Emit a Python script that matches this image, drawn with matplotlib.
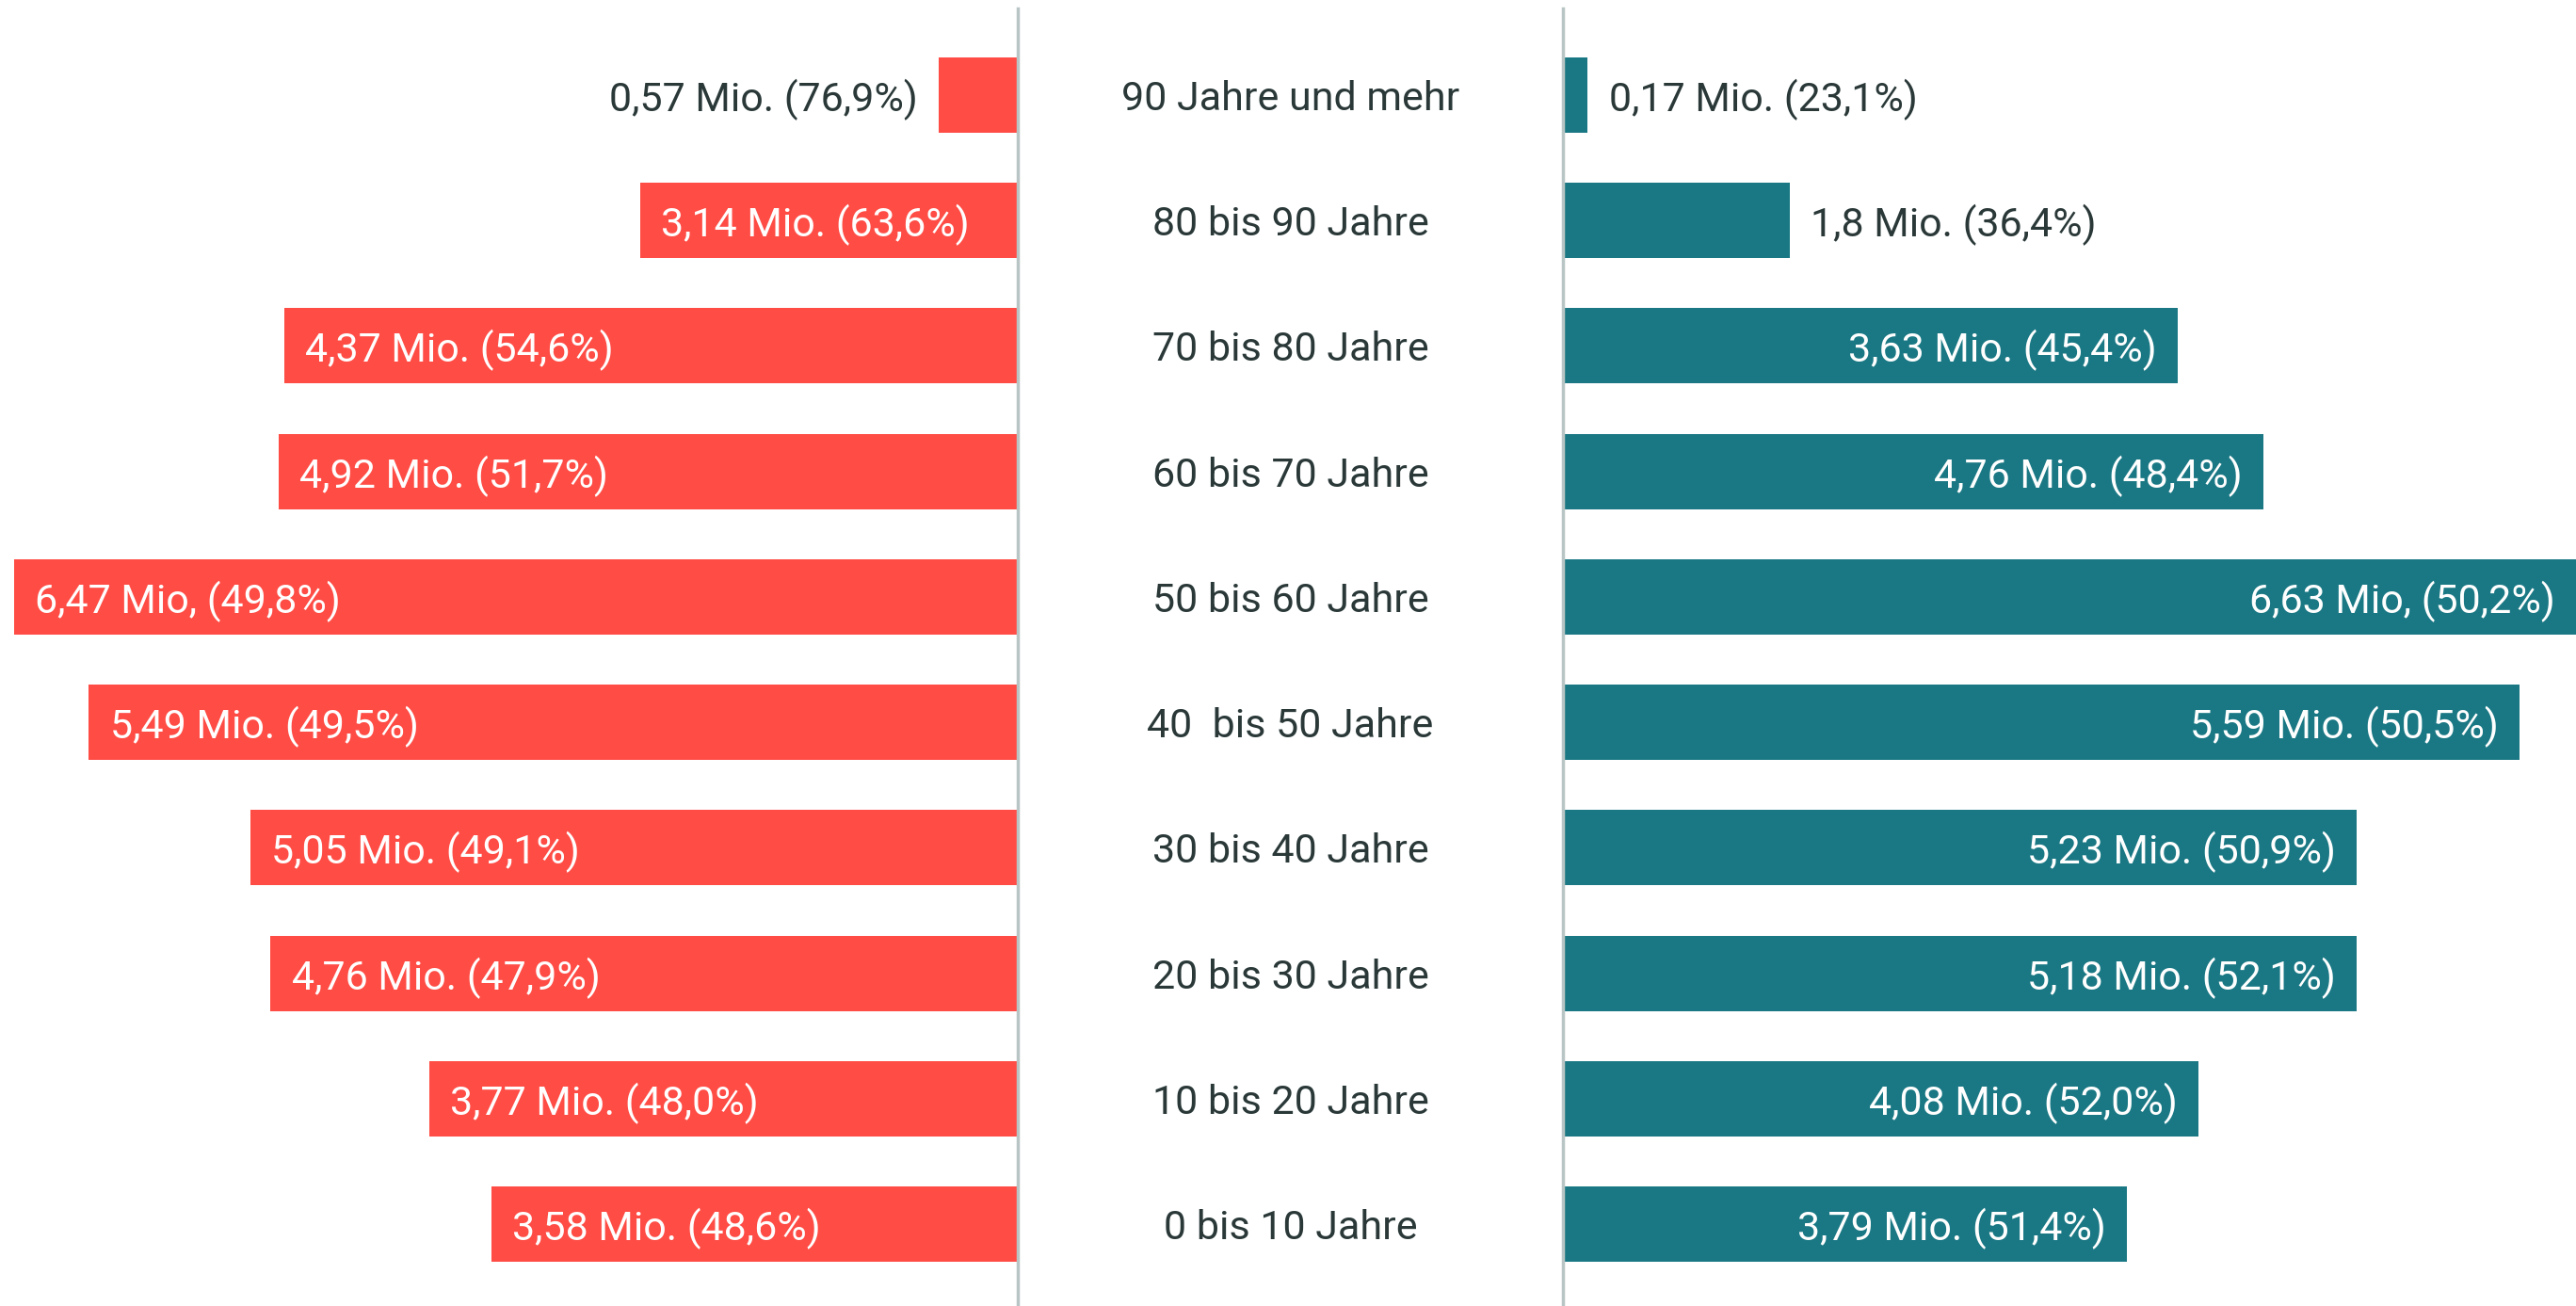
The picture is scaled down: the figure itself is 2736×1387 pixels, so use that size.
import matplotlib
matplotlib.use("Agg")
import matplotlib.pyplot as plt
from matplotlib.transforms import blended_transform_factory

plt.rcParams['font.family'] = ['Roboto', 'DejaVu Sans']

# age groups, top to bottom
groups = ["90 Jahre und mehr", "80 bis 90 Jahre", "70 bis 80 Jahre", "60 bis 70 Jahre",
          "50 bis 60 Jahre", "40  bis 50 Jahre", "30 bis 40 Jahre", "20 bis 30 Jahre",
          "10 bis 20 Jahre", "0 bis 10 Jahre"]

# bar lengths as drawn (Mio.)
women = [0.51, 2.43, 4.72, 4.76, 6.46, 5.98, 4.94, 4.81, 3.79, 3.39]
men = [0.16, 1.46, 3.96, 4.51, 6.60, 6.16, 5.11, 5.11, 4.09, 3.63]

women_labels = ["0,57 Mio. (76,9%)", "3,14 Mio. (63,6%)", "4,37 Mio. (54,6%)", "4,92 Mio. (51,7%)",
                "6,47 Mio, (49,8%)", "5,49 Mio. (49,5%)", "5,05 Mio. (49,1%)", "4,76 Mio. (47,9%)",
                "3,77 Mio. (48,0%)", "3,58 Mio. (48,6%)"]
men_labels = ["0,17 Mio. (23,1%)", "1,8 Mio. (36,4%)", "3,63 Mio. (45,4%)", "4,76 Mio. (48,4%)",
              "6,63 Mio, (50,2%)", "5,59 Mio. (50,5%)", "5,23 Mio. (50,9%)", "5,18 Mio. (52,1%)",
              "4,08 Mio. (52,0%)", "3,79 Mio. (51,4%)"]

RED = "#FF4C45"
TEAL = "#1A7884"
DARK = "#2A3838"
GRID = "#B9C5C5"
FS = 31

W, H = 2736, 1387
px_per_unit = 165.0
left_edge = 1081
right_edge = 1660

fig = plt.figure(figsize=(W / 100, H / 100), dpi=100)
axL = fig.add_axes([0, 0, left_edge / W, 1])
axR = fig.add_axes([right_edge / W, 0, (W - right_edge) / W, 1])

ypos = list(range(len(groups)))
step = 133.2
ytop = -101 / step
ybot = len(groups) - 1 + (H - 1300) / step

for ax in (axL, axR):
    ax.set_ylim(ybot, ytop)
    ax.axis('off')
axL.set_xlim(left_edge / px_per_unit, 0)
axR.set_xlim(0, (W - right_edge) / px_per_unit)

axL.barh(ypos, women, height=0.6, color=RED)
axR.barh(ypos, men, height=0.6, color=TEAL)

line_top = 1 - 9 / H
axL.axvline(0, ymin=0, ymax=line_top, color=GRID, lw=2.5, clip_on=False)
axR.axvline(0, ymin=0, ymax=line_top, color=GRID, lw=2.5, clip_on=False)

pad = 16
va = 'center_baseline'
for y, v, lab in zip(ypos, women, women_labels):
    if v > 2:
        axL.annotate(lab, (v, y), xytext=(pad, 0), textcoords='offset points',
                     ha='left', va=va, color='white', fontsize=FS)
    else:
        axL.annotate(lab, (v, y), xytext=(-pad, 0), textcoords='offset points',
                     ha='right', va=va, color=DARK, fontsize=FS)

for y, v, lab in zip(ypos, men, men_labels):
    vis = min(v, (W - right_edge) / px_per_unit)
    if v > 2:
        axR.annotate(lab, (vis, y), xytext=(-pad, 0), textcoords='offset points',
                     ha='right', va=va, color='white', fontsize=FS)
    else:
        axR.annotate(lab, (v, y), xytext=(pad, 0), textcoords='offset points',
                     ha='left', va=va, color=DARK, fontsize=FS)

trans = blended_transform_factory(fig.transFigure, axL.transData)
cx = (left_edge + right_edge) / 2 / W
for y, g in zip(ypos, groups):
    axL.text(cx, y, g, transform=trans, ha='center', va=va,
             color=DARK, fontsize=FS, clip_on=False)

fig.savefig("out.png", dpi=100)
